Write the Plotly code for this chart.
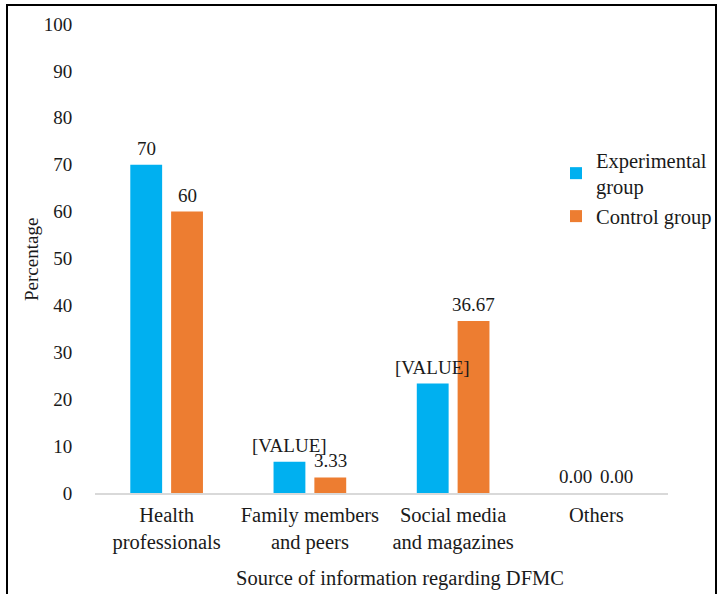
import plotly.graph_objects as go

categories = ["Health<br>professionals", "Family members<br>and peers",
              "Social media<br>and magazines", "Others"]
experimental = [70, 6.67, 23.33, 0]
control = [60, 3.33, 36.67, 0]
experimental_labels = ["70", "[VALUE]", "[VALUE]", "0.00"]
control_labels = ["60", "3.33", "36.67", "0.00"]

FONT = "Liberation Serif"
TXT = "#1a1a1a"
BIG = 20.5
NUM = 19

ml, mr, mt, mb = 95, 52, 24, 101
W, H = 720, 594
pw, ph = W - ml - mr, H - mt - mb

def px_x(x):
    return (x - ml) / pw

def px_y(y):
    return (H - y - mb) / ph

fig = go.Figure()
fig.add_trace(go.Bar(
    x=categories, y=experimental, name="Experimental<br>group",
    marker=dict(color="#00B0F0", line=dict(width=0)),
))
fig.add_trace(go.Bar(
    x=categories, y=control, name="Control group",
    marker=dict(color="#ED7D31", line=dict(width=0)),
))

# data labels as annotations drawn on top of all bars
slot = pw / len(categories) * (1 - 0.43) / 2
annotations = []
for vals, labels, shift in ((experimental, experimental_labels, -slot / 2),
                            (control, control_labels, slot / 2)):
    for c, v, t in zip(categories, vals, labels):
        annotations.append(dict(
            x=c, y=v, xref="x", yref="y", text=t, showarrow=False,
            xshift=shift, yshift=4, xanchor="center", yanchor="bottom",
            font=dict(family=FONT, size=NUM, color=TXT)))

annotations.append(dict(text="Source of information regarding DFMC",
                        xref="paper", yref="paper", x=px_x(400), y=px_y(578),
                        xanchor="center", yanchor="middle", showarrow=False,
                        font=dict(family=FONT, size=BIG, color=TXT)))
annotations.append(dict(text="Percentage", textangle=-90,
                        xref="paper", yref="paper", x=px_x(31), y=px_y(260),
                        xanchor="center", yanchor="middle", showarrow=False,
                        font=dict(family=FONT, size=NUM, color=TXT)))

fig.update_layout(
    width=W, height=H,
    margin=dict(l=ml, r=mr, t=mt, b=mb, autoexpand=False),
    paper_bgcolor="white", plot_bgcolor="white",
    font=dict(family=FONT, size=BIG, color=TXT),
    barmode="group", bargap=0.43, bargroupgap=0.22,
    showlegend=True,
    legend=dict(x=px_x(556), y=px_y(140), xanchor="left", yanchor="top",
                font=dict(family=FONT, size=BIG, color=TXT),
                bgcolor="rgba(0,0,0,0)", itemwidth=30, tracegroupgap=0),
    xaxis=dict(showline=True, linecolor="#d9d9d9", linewidth=1.5,
               ticks="outside", ticklen=3, tickcolor="rgba(0,0,0,0)",
               showgrid=False, zeroline=False,
               automargin=False,
               tickfont=dict(family=FONT, size=BIG, color=TXT)),
    yaxis=dict(range=[0, 100], dtick=10, showgrid=False, zeroline=False,
               showline=False, ticks="outside", ticklen=18,
               tickcolor="rgba(0,0,0,0)",
               automargin=False,
               tickfont=dict(family=FONT, size=NUM, color=TXT)),
    annotations=annotations,
    shapes=[dict(type="rect", xref="paper", yref="paper",
                 x0=px_x(7), x1=px_x(716), y0=px_y(640), y1=px_y(5),
                 line=dict(color="black", width=2), fillcolor="rgba(0,0,0,0)")],
)

fig.write_html("out.html")
